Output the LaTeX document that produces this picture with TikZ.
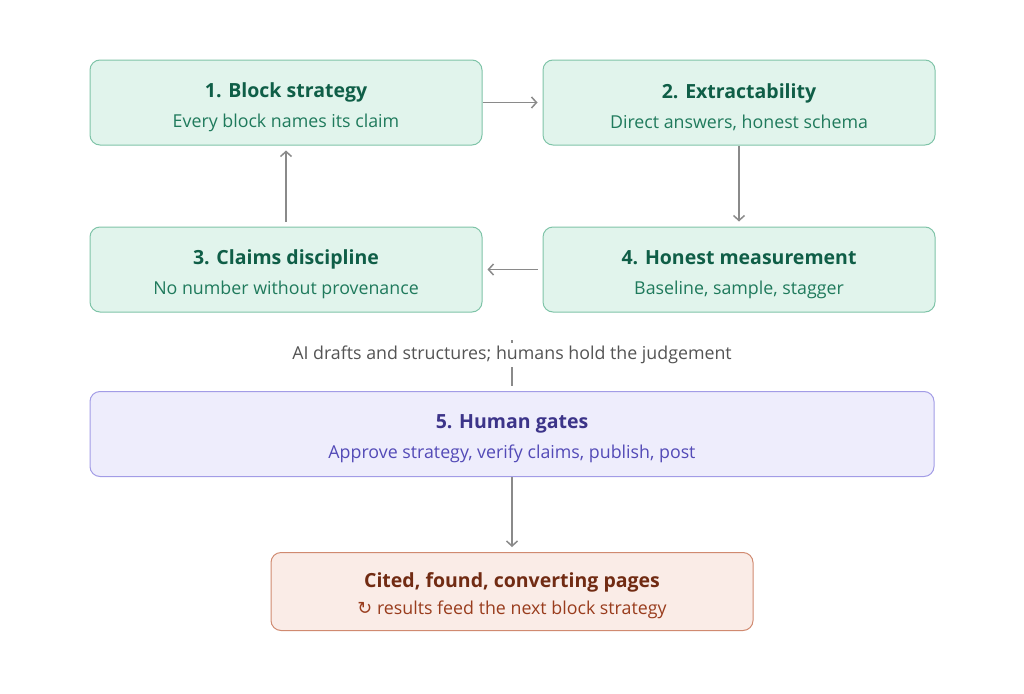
\documentclass[tikz,border=0pt]{standalone}
\usepackage{fontspec}
\setmainfont{Open Sans}
\newfontfamily\symfont{DejaVu Sans}
\usetikzlibrary{positioning, arrows.meta}
\definecolor{stagefill}{HTML}{E1F4EC}
\definecolor{stageline}{HTML}{7FC4A8}
\definecolor{stagehead}{HTML}{0F5E47}
\definecolor{stagesub}{HTML}{1F7A5C}
\definecolor{gatefill}{HTML}{EEEDFC}
\definecolor{gateline}{HTML}{A29CE6}
\definecolor{gatehead}{HTML}{3C3489}
\definecolor{gatesub}{HTML}{534AB7}
\definecolor{outfill}{HTML}{FAECE7}
\definecolor{outline}{HTML}{D08A70}
\definecolor{outhead}{HTML}{712B13}
\definecolor{outsub}{HTML}{993C1D}
\definecolor{flow}{HTML}{8A8A8A}
\tikzstyle{stage}=[draw=stageline, fill=stagefill, rounded corners=10pt, line width=1pt, minimum width=392pt, minimum height=85pt, align=center, font=\fontsize{17.5}{30}\selectfont]
\tikzstyle{gate}=[stage, draw=gateline, fill=gatefill, minimum width=844pt]
\tikzstyle{result}=[stage, draw=outline, fill=outfill, minimum width=482pt, minimum height=78pt, font=\fontsize{17.5}{27}\selectfont]
\tikzstyle{link}=[draw=flow, line width=1.5pt, shorten >=5pt]
\newcommand{\head}[2]{{\color{#1}\fontsize{19.5}{24}\selectfont\bfseries\rule{0pt}{24pt}#2}}
\newcommand{\sub}[2]{{\color{#1}\fontsize{17.8}{21}\selectfont #2}}

\begin{document}
\begin{tikzpicture}[x=1pt,y=-1pt,>={Straight Barb[length=5pt,width=11pt]}]
      \useasboundingbox (0,0) rectangle (1024,693);
      \node [stage] (block) at (286,102.5) {\head{stagehead}{1. Block strategy}\\\sub{stagesub}{Every block names its claim}};
      \node [stage] (extract) [right=60pt of block] {\head{stagehead}{2. Extractability}\\\sub{stagesub}{Direct answers, honest schema}};
      \node [stage] (claims) [below=81pt of block] {\head{stagehead}{3. Claims discipline}\\\sub{stagesub}{No number without provenance}};
      \node [stage] (measure) [below=81pt of extract] {\head{stagehead}{4. Honest measurement}\\\sub{stagesub}{Baseline, sample, stagger}};
      \node [gate] (gates) at (512,434) {\head{gatehead}{5. Human gates}\\\sub{gatesub}{Approve strategy, verify claims, publish, post}};
      \node [result] (pages) [below=75pt of gates] {\head{outhead}{Cited, found, converting pages}\\\sub{outsub}{{\symfont\char"21BB} results feed the next block strategy}};
      \coordinate (split) at (512,340);
      \path[link] (split) -- (gates.north);
      \node [fill=white, inner sep=3pt, text=black!67] (note) at (512,355) {\fontsize{17.8}{21}\selectfont AI drafts and structures; humans hold the judgement};
      \path[link,->] (block) -- (extract);
      \path[link,->,shorten <=0pt] (extract) -- (measure);
      \path[link,->,shorten <=5pt] (measure) -- (claims);
      \path[link,->,shorten <=5pt] (claims) -- (block);
      \path[link,->] (gates) -- (pages);
  \end{tikzpicture}
\end{document}
